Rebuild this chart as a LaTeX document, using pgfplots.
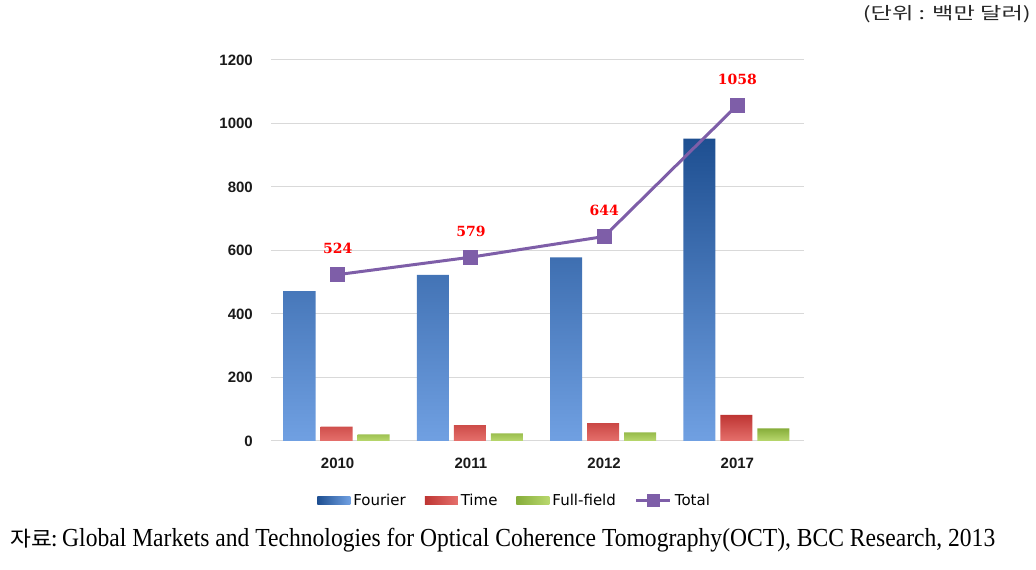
\documentclass[border=0pt]{standalone}
\usepackage{pgfplots}
\pgfplotsset{compat=1.18}
\usepackage{graphicx}
\usepackage{fontspec}
\setmainfont{Liberation Serif}
\newfontfamily\ticksf{Liberation Sans}
\newfontfamily\legsf{DejaVu Sans}
\newfontfamily\labserif{DejaVu Serif}
\newfontfamily\kr{Noto Sans CJK KR}
\definecolor{fourTop}{HTML}{1E4F91}
\definecolor{fourBot}{HTML}{70A0E2}
\definecolor{timeTop}{HTML}{BE3533}
\definecolor{timeBot}{HTML}{E5706C}
\definecolor{fullTop}{HTML}{86AD3A}
\definecolor{fullBot}{HTML}{B9D86E}
\definecolor{totc}{HTML}{7E5EA8}
\definecolor{gridc}{HTML}{D9D9D9}
\definecolor{tickc}{HTML}{1A1A1A}
\begin{document}
\begin{tikzpicture}
\useasboundingbox (0,0) rectangle (1036pt,570pt);
\begin{axis}[
  at={(271pt,129pt)}, anchor=south west,
  scale only axis, width=533pt, height=381pt,
  xmin=-0.5, xmax=3.5, ymin=0, ymax=1200,
  xtick={0,1,2,3}, xticklabels={2010,2011,2012,2017},
  ytick={0,200,400,600,800,1000,1200},
  ymajorgrids, grid style={draw=gridc, line width=1pt},
  axis line style={draw=none},
  major tick length=0pt, tick style={draw=none},
  /pgf/number format/assume math mode=true,
  /pgf/number format/1000 sep={},
  yticklabel style={font=\ticksf\bfseries\fontsize{15}{18}\selectfont, text=tickc, inner sep=0pt, anchor=east, xshift=-18pt},
  xticklabel style={font=\ticksf\bfseries\fontsize{15}{18}\selectfont, text=tickc, inner sep=0pt, anchor=north, yshift=-17pt},
  clip=false,
  legend columns=4,
  legend style={at={(0.458,-0.155)}, anchor=center, draw=none, fill=none,
    font=\legsf\fontsize{15}{18}\selectfont, inner sep=0pt,
    /tikz/every even column/.append style={column sep=16pt},
    nodes={inner xsep=3pt}},
]
\addplot[ybar, bar width=32pt, bar shift=-38pt, draw=none, top color=fourTop, bottom color=fourBot,
  legend image code/.code={\path[left color=fourTop, right color=fourBot] (0pt,-4pt) rectangle (33pt,4pt);}]
  coordinates {(0,472) (1,523) (2,578) (3,952)};
\addlegendentry{Fourier}
\addplot[ybar, bar width=32pt, bar shift=-1pt, draw=none, top color=timeTop, bottom color=timeBot,
  legend image code/.code={\path[left color=timeTop, right color=timeBot] (0pt,-4pt) rectangle (33pt,4pt);}]
  coordinates {(0,45) (1,50) (2,56) (3,82)};
\addlegendentry{Time}
\addplot[ybar, bar width=32pt, bar shift=36pt, draw=none, top color=fullTop, bottom color=fullBot,
  legend image code/.code={\path[left color=fullTop, right color=fullBot] (0pt,-4pt) rectangle (33pt,4pt);}]
  coordinates {(0,21) (1,24) (2,27) (3,40)};
\addlegendentry{Full-field}
\addplot[color=totc, line width=3pt, mark=square*, mark size=6pt, mark options={solid, fill=totc},
  point meta=explicit symbolic, nodes near coords,
  nodes near coords style={font=\labserif\bfseries\fontsize{14}{16}\selectfont, text=red, anchor=south, inner sep=0pt, yshift=19pt},
  legend image code/.code={\draw[totc, line width=3pt] (0pt,0pt) -- (34pt,0pt); \fill[totc] (12pt,-5pt) rectangle (22pt,5pt);}]
  coordinates {(0,524)[524] (1,579)[579] (2,644)[644] (3,1058)[1058]};
\addlegendentry{Total}
\end{axis}
\node[anchor=east, inner sep=0pt, text=black!85] at (1031pt,556pt) {\resizebox{168pt}{\height}{\kr\fontsize{17}{20}\selectfont (단위 : 백만 달러)}};
\node[anchor=west, inner sep=0pt] at (10pt,31pt) {\resizebox{48pt}{\height}{\kr\fontsize{21}{24}\selectfont 자료:}};
\node[anchor=base west, inner sep=0pt] at (62pt,23pt) {\resizebox{933pt}{\height}{\fontsize{26}{29}\selectfont Global Markets and Technologies for Optical Coherence Tomography(OCT), BCC Research, 2013}};
\end{tikzpicture}
\end{document}
